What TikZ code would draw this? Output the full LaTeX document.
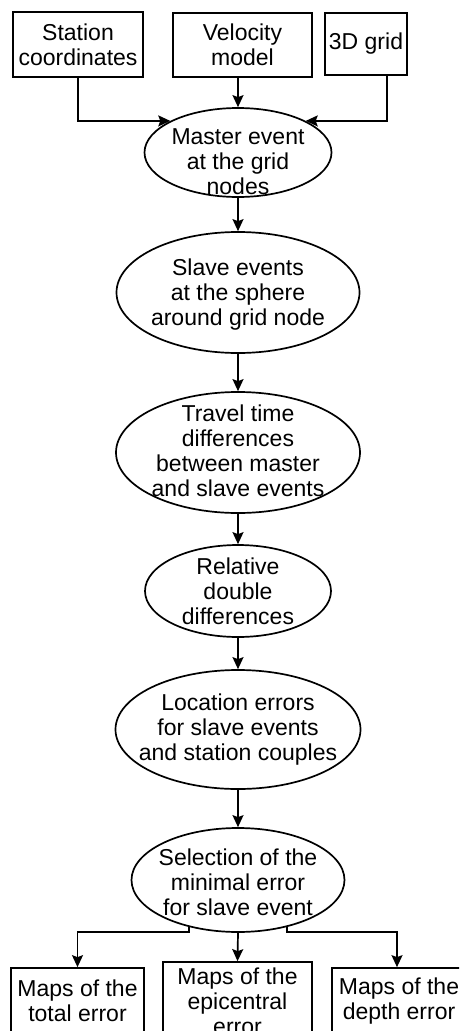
\documentclass[tikz,border=0pt]{standalone}
\usepackage{fontspec}
\setmainfont{Liberation Sans}
\usetikzlibrary{arrows.meta,shapes.geometric}

\begin{document}
\begin{tikzpicture}[x=1pt,y=-1pt,
    >={Stealth[length=12pt,width=11pt,inset=2pt]}]

    \useasboundingbox (0,0) rectangle (459,1031);
    \clip (0,0) rectangle (459,1031);

    % input boxes, flow ellipses and output maps, at pixel positions
    \begin{scope}[every node/.style={font=\fontsize{23}{25}\selectfont, align=center, inner sep=0pt},
                  box/.style={draw, line width=1.7pt, rectangle},
                  proc/.style={draw, line width=1.7pt, ellipse}]
    \node[box, minimum width=130pt, minimum height=65pt] (st) at (78,44.5) {Station\\coordinates};
    \node[box, minimum width=139pt, minimum height=64pt] (vel) at (242.5,45) {Velocity\\model};
    \node[box, minimum width=82pt, minimum height=62pt] (grid) at (366,44) {3D grid};

    \node[proc, minimum width=187pt, minimum height=89pt,
          label={[yshift=-9pt]center:Master event\\at the grid\\nodes}] (master) at (238,152.5) {};
    \node[proc, minimum width=243pt, minimum height=121pt,
          label={[yshift=-2pt]center:Slave events\\at the sphere\\around grid node}] (slave) at (238,292.5) {};
    \node[proc, minimum width=244pt, minimum height=121pt,
          label={[yshift=2pt]center:Travel time\\differences\\between master\\and slave events}] (travel) at (238,452.5) {};
    \node[proc, minimum width=186pt, minimum height=92pt,
          label={center:Relative\\double\\differences}] (rdd) at (238,591) {};
    \node[proc, minimum width=245pt, minimum height=119pt,
          label={center:Location errors\\for slave events\\and station couples}] (locerr) at (238,729.5) {};
    \node[proc, minimum width=213pt, minimum height=104pt,
          label={[yshift=-2pt]center:Selection of the\\minimal error\\for slave event}] (sel) at (238,880) {};

    \node[box, minimum width=133pt, minimum height=66pt] (total) at (77.5,1001) {Maps of the\\total error};
    \node[box, minimum width=149pt, minimum height=78pt] (epi) at (237.5,1001) {Maps of the\\epicentral\\error};
    \node[box, minimum width=134pt, minimum height=66pt] (depth) at (399,1001) {Maps of the\\depth error};
    \end{scope}

    \coordinate (fork) at (238,932);

    % straight arrows down the chain
    \begin{scope}[every edge/.style={draw=black, line width=1.7pt}]
    \path [->] ([xshift=-4.5pt]vel.south) edge (master.north);
    \path [->] (master.south) edge (slave.north);
    \path [->] (slave.south) edge (travel.north);
    \path [->] (travel.south) edge (rdd.north);
    \path [->] (rdd.south) edge (locerr.north);
    \path [->] (locerr.south) edge (sel.north);
    \path [->] (sel.south) edge (epi.north);
    \end{scope}

    % elbow arrows
    \begin{scope}[line width=1.7pt]
    \draw [->] (st.south) |- (master.155);
    \draw [->] ([xshift=21pt]grid.south) |- (master.25);
    \draw [->] (sel.224) -- (sel.224 |- fork) -| (total.north);
    \draw [->] (sel.316) -- (sel.316 |- fork) -| ([xshift=-2pt]depth.north);
    \end{scope}

\end{tikzpicture}
\end{document}
